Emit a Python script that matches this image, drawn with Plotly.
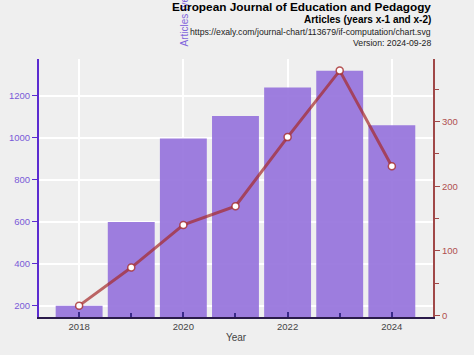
import plotly.graph_objects as go

years = [2018, 2019, 2020, 2021, 2022, 2023, 2024]
articles = [200, 600, 997, 1105, 1240, 1320, 1060]
if_values = [15, 74, 140, 169, 276, 379, 231]

W, H = 474, 355
L, R, T, B = 39, 433, 59, 317
PH = B - T

def py(ypix):
    return (B - ypix) / PH

fig = go.Figure()
fig.add_trace(go.Bar(
    x=years, y=articles, width=0.9,
    marker=dict(color="rgba(147,112,219,0.9)", line=dict(width=0)),
    yaxis="y", showlegend=False,
))
fig.add_trace(go.Scatter(
    x=years, y=if_values, mode="lines+markers",
    line=dict(color="rgba(165,42,42,0.7)", width=3),
    marker=dict(size=7, color="white", line=dict(color="rgba(165,42,42,0.8)", width=1.5)),
    yaxis="y2", showlegend=False,
))

font_family = "Liberation Sans, Arial, sans-serif"
annotations = [
    # rotated y-axis title placed at the top (as in the reference)
    dict(text="Articles (years x-1 and x-2)", x=(184 - L) / (R - L), y=py(49), xref="paper", yref="paper",
         xanchor="center", yanchor="bottom", textangle=-90, showarrow=False,
         font=dict(size=10, color="#8266dc")),
    dict(text="<b>European Journal of Education and Pedagogy</b>", x=1, y=py(7), xref="paper", yref="paper",
         xanchor="right", yanchor="middle", showarrow=False, font=dict(size=11.8, color="black")),
    dict(text="<b>Articles (years x-1 and x-2)</b>", x=1, y=py(19.5), xref="paper", yref="paper",
         xanchor="right", yanchor="middle", showarrow=False, font=dict(size=10, color="black")),
    dict(text="https://exaly.com/journal-chart/113679/if-computation/chart.svg", x=1, y=py(32), xref="paper", yref="paper",
         xanchor="right", yanchor="middle", showarrow=False, font=dict(size=8.7, color="#222")),
    dict(text="Version: 2024-09-28", x=1, y=py(43), xref="paper", yref="paper",
         xanchor="right", yanchor="middle", showarrow=False, font=dict(size=8.7, color="#222")),
]

fig.update_layout(
    width=W, height=H,
    margin=dict(l=L, r=W - R, t=T, b=H - B, pad=0, autoexpand=False),
    paper_bgcolor="#efefef", plot_bgcolor="#efefef",
    font=dict(family=font_family, size=10, color="#444"),
    xaxis=dict(
        range=[2017.23, 2024.79], tickmode="linear", tick0=2018, dtick=2,
        ticks="inside", ticklen=5, tickcolor="#3a2a8a", tickwidth=1.5,
        minor=dict(dtick=1, tick0=2018, ticks="inside", ticklen=4, tickcolor="#3a2a8a", showgrid=False),
        showgrid=True, gridcolor="white", gridwidth=1.5,
        showline=True, linecolor="#2a1a4a", linewidth=2,
        tickfont=dict(size=9.5, color="#444"),
        title=dict(text="Year", font=dict(size=10, color="#444"), standoff=3),
        zeroline=False, automargin=False,
    ),
    yaxis=dict(
        range=[147, 1376], tickmode="linear", tick0=200, dtick=200,
        ticks="outside", ticklen=5, tickcolor="#5b2bd0",
        showgrid=True, gridcolor="white", gridwidth=1.5,
        showline=True, linecolor="#5b2bd0", linewidth=2,
        tickfont=dict(size=9.5, color="#7a5ad8"),
        zeroline=False, automargin=False,
    ),
    yaxis2=dict(
        range=[-2.6, 397], overlaying="y", side="right", tickmode="linear", tick0=0, dtick=100,
        ticks="outside", ticklen=5, tickcolor="#a04848",
        minor=dict(dtick=50, tick0=0, ticks="outside", ticklen=4, tickcolor="#a04848", showgrid=False),
        showgrid=False, showline=True, linecolor="#a04848", linewidth=2,
        tickfont=dict(size=9.5, color="#b05050"),
        zeroline=False, automargin=False,
    ),
    annotations=annotations,
)

fig.write_html("out.html", config={"displayModeBar": False},
               post_script="document.body.style.margin='0';")
